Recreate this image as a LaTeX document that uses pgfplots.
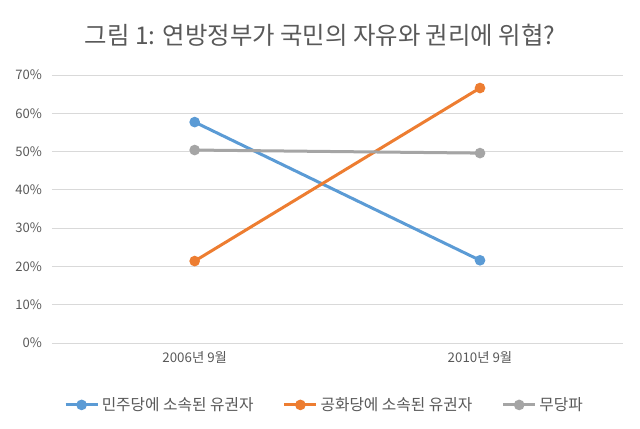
\documentclass[border=0pt]{standalone}
\usepackage{fontspec}
\setmainfont{Carlito}
\newfontfamily\kr{Noto Sans CJK KR}
\usepackage{pgfplots}
\pgfplotsset{compat=1.18}
\definecolor{txtgray}{HTML}{595959}
\definecolor{gridgray}{HTML}{D9D9D9}
\definecolor{sblue}{HTML}{5B9BD5}
\definecolor{sorange}{HTML}{ED7D31}
\definecolor{sgray}{HTML}{A5A5A5}
\begin{document}
\begin{tikzpicture}
\useasboundingbox (-39pt,-64.5pt) rectangle (441pt,257.25pt);
\begin{axis}[
  scale only axis,
  width=428pt, height=201pt,
  xmin=-0.5, xmax=1.5, ymin=0, ymax=70,
  axis line style={draw=none},
  tick style={draw=none},
  ytick={0,10,...,70},
  yticklabel={\pgfmathprintnumber{\tick}\%},
  /pgf/number format/assume math mode=true,
  ymajorgrids,
  grid style={color=gridgray, line width=0.75pt},
  xtick={0,1},
  xticklabels={{\kr 2006년 9월},{\kr 2010년 9월}},
  tick label style={text=txtgray},
  xticklabel style={font=\fontsize{10}{12}\selectfont, yshift=-3pt},
  yticklabel style={font=\kr\fontsize{9.8}{12}\selectfont, xshift=-4pt},
  legend columns=3,
  legend style={at={(0.478,-0.231)}, anchor=center, draw=none,
    font=\kr\fontsize{11.8}{14}\selectfont, text=txtgray,
    /tikz/every even column/.append style={column sep=20pt}},
  legend image code/.code={\draw[mark repeat=2,mark phase=2] plot coordinates {(0pt,0pt)(12pt,0pt)(24pt,0pt)};},
  every axis plot/.append style={line width=2.25pt, mark=*, mark size=2.8pt},
]
\addplot[color=sblue] coordinates {(0,57.7) (1,21.6)};
\addplot[color=sorange] coordinates {(0,21.4) (1,66.6)};
\addplot[color=sgray] coordinates {(0,50.4) (1,49.6)};
\legend{민주당에 소속된 유권자,공화당에 소속된 유권자,무당파}
\end{axis}
\node[font=\kr\fontsize{18.3}{22}\selectfont, text=txtgray] at (201pt,231pt) {그림 1: 연방정부가 국민의 자유와 권리에 위협?};
\end{tikzpicture}
\end{document}
